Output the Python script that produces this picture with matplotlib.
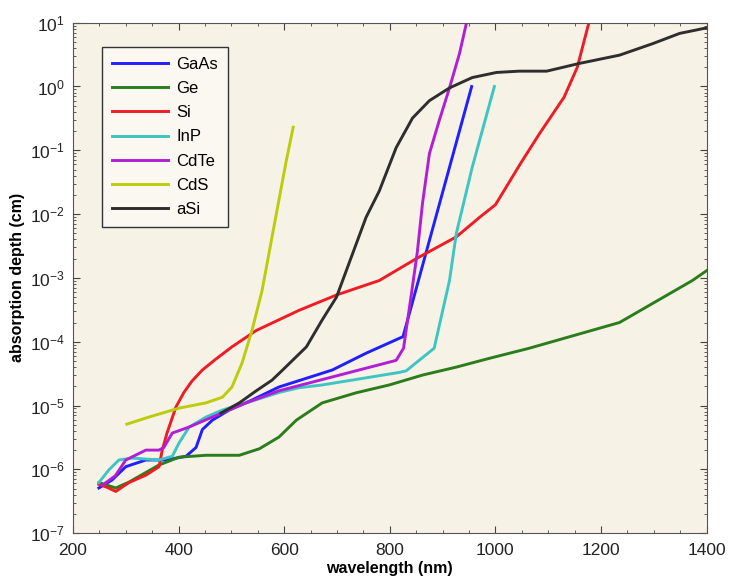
import matplotlib
matplotlib.use("Agg")
import matplotlib.pyplot as plt
from matplotlib.ticker import MultipleLocator, LogLocator, NullFormatter

plt.rcParams['font.family'] = ['Liberation Sans', 'DejaVu Sans']
plt.rcParams['mathtext.fontset'] = 'custom'
plt.rcParams['mathtext.rm'] = 'Liberation Sans'

# absorption depth (cm) vs wavelength (nm)
gaas_wl = [249, 274, 300, 338, 376, 414, 433, 445, 464, 496, 540, 590, 691, 755, 825, 955]
gaas_d = [5.1e-7, 6.8e-7, 1.1e-6, 1.4e-6, 1.4e-6, 1.6e-6, 2.2e-6, 4.2e-6, 5.9e-6,
          8.5e-6, 1.23e-5, 1.95e-5, 3.6e-5, 6.6e-5, 1.2e-4, 1.0]

ge_wl = [249, 281, 306, 363, 401, 452, 515, 553, 590, 623, 672, 736, 799, 862, 926,
         989, 1064, 1235, 1373, 1400]
ge_d = [6.2e-7, 5.1e-7, 6.3e-7, 1.17e-6, 1.55e-6, 1.66e-6, 1.66e-6, 2.1e-6, 3.2e-6,
        5.9e-6, 1.1e-5, 1.58e-5, 2.1e-5, 3.0e-5, 4.0e-5, 5.5e-5, 7.9e-5, 2.0e-4,
        9.1e-4, 1.3e-3]

si_wl = [249, 265, 281, 306, 338, 363, 369, 378, 395, 410, 425, 445, 470, 501, 547,
         628, 699, 780, 850, 926, 970, 1000, 1048, 1083, 1130, 1155, 1177]
si_d = [5.8e-7, 5.2e-7, 4.5e-7, 6.2e-7, 8.1e-7, 1.1e-6, 2.0e-6, 3.7e-6, 9.5e-6,
        1.6e-5, 2.4e-5, 3.6e-5, 5.3e-5, 8.3e-5, 1.5e-4, 3.1e-4, 5.4e-4, 9.1e-4,
        2.0e-3, 4.4e-3, 8.9e-3, 1.4e-2, 6.3e-2, 0.18, 0.68, 2.0, 10.0]

inp_wl = [249, 268, 287, 312, 363, 388, 401, 420, 452, 483, 528, 590, 628, 672, 818,
          831, 884, 913, 926, 956, 998]
inp_d = [6.2e-7, 9.8e-7, 1.4e-6, 1.5e-6, 1.4e-6, 1.6e-6, 2.6e-6, 4.6e-6, 6.6e-6,
         8.5e-6, 1.1e-5, 1.6e-5, 1.9e-5, 2.1e-5, 3.3e-5, 3.5e-5, 7.9e-5, 9.1e-4,
         5.0e-3, 5.4e-2, 1.0]

cdte_wl = [255, 280, 300, 338, 363, 372, 388, 420, 464, 528, 590, 812, 826, 840, 852,
           862, 875, 894, 913, 932, 945]
cdte_d = [5.6e-7, 7.9e-7, 1.4e-6, 2.0e-6, 2.0e-6, 2.2e-6, 3.7e-6, 4.6e-6, 6.6e-6,
          1.1e-5, 1.7e-5, 5.1e-5, 7.9e-5, 5.0e-4, 2.5e-3, 1.5e-2, 8.9e-2, 0.30,
          0.95, 3.3, 9.8]

cds_wl = [302, 344, 401, 452, 483, 501, 520, 539, 558, 585, 604, 617]
cds_d = [5.1e-6, 6.6e-6, 9.1e-6, 1.1e-5, 1.35e-5, 1.95e-5, 4.6e-5, 1.5e-4, 6.3e-4,
         1.0e-2, 6.9e-2, 0.23]

asi_wl = [480, 515, 547, 577, 597, 642, 672, 699, 755, 780, 812, 843, 875, 913, 956,
          1002, 1045, 1097, 1159, 1235, 1298, 1349, 1400]
asi_d = [7.6e-6, 1.1e-5, 1.7e-5, 2.5e-5, 3.6e-5, 8.3e-5, 2.2e-4, 5.0e-4, 8.9e-3,
         2.3e-2, 0.11, 0.32, 0.60, 0.95, 1.38, 1.66, 1.74, 1.74, 2.3, 3.1, 4.7, 6.8, 8.3]

series = [
    ("GaAs", gaas_wl, gaas_d, "#1f1fff"),
    ("Ge", ge_wl, ge_d, "#2b7d1c"),
    ("Si", si_wl, si_d, "#ee1c24"),
    ("InP", inp_wl, inp_d, "#3fc4c4"),
    ("CdTe", cdte_wl, cdte_d, "#b01fd6"),
    ("CdS", cds_wl, cds_d, "#bccc0a"),
    ("aSi", asi_wl, asi_d, "#2e2e2e"),
]

fig = plt.figure(figsize=(7.3, 5.82), dpi=100)
ax = fig.add_axes([0.100, 0.084, 0.868, 0.877])
ax.set_facecolor("#f7f2e6")

for name, wl, d, clr in series:
    ax.plot(wl, d, color=clr, lw=2.1, label=name)

ax.set_yscale("log")
ax.set_xlim(200, 1400)
ax.set_ylim(1e-7, 10)
ax.xaxis.set_major_locator(MultipleLocator(200))
ax.xaxis.set_minor_locator(MultipleLocator(50))
ax.yaxis.set_major_locator(LogLocator(base=10, numticks=20))
ax.yaxis.set_minor_locator(LogLocator(base=10, subs=range(2, 10), numticks=20))
ax.yaxis.set_minor_formatter(NullFormatter())
ax.tick_params(which="both", direction="in", top=True, right=True, colors="#444444",
               labelcolor="#222222", labelsize=12.5)
ax.tick_params(which="major", length=5)
ax.tick_params(which="minor", length=2.5)
ax.tick_params(axis="x", pad=7)
ax.tick_params(axis="y", pad=6)
for s in ax.spines.values():
    s.set_color("#555555")

ax.set_xlabel("wavelength (nm)", fontsize=11.5, fontweight="bold", labelpad=2)
ax.set_ylabel("absorption depth (cm)", fontsize=11.5, fontweight="bold", labelpad=3)

leg = ax.legend(loc="upper left", bbox_to_anchor=(0.032, 0.969), fontsize=12,
                handlelength=3.4, labelspacing=0.55, borderpad=0.6, handletextpad=0.5,
                fancybox=False, framealpha=1, facecolor="#fbf8f1", edgecolor="#333333")
leg.get_frame().set_linewidth(1.0)

plt.savefig("out.png", dpi=100)
plt.close()
